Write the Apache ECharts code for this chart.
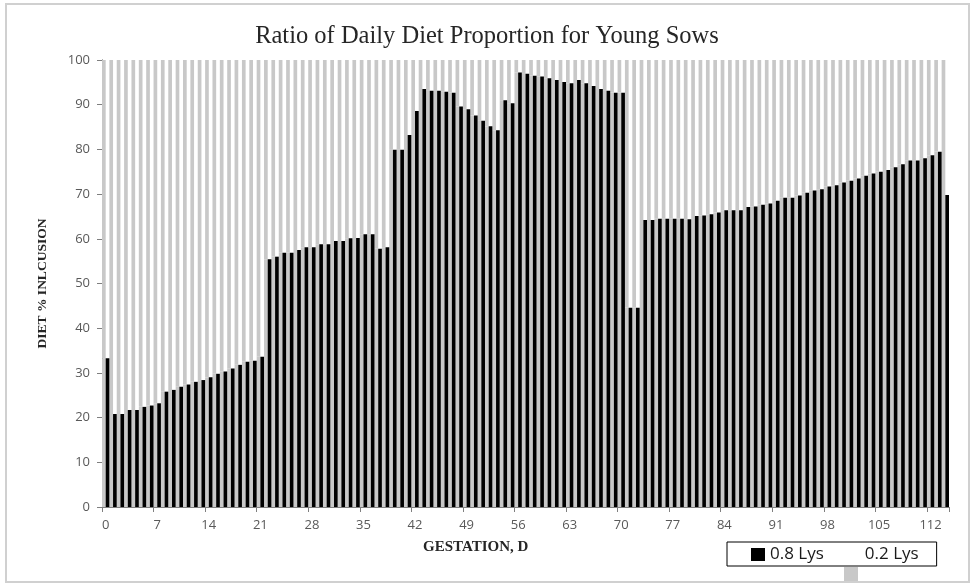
<!DOCTYPE html>
<html>
<head>
<meta charset="utf-8">
<script src="https://cdn.jsdelivr.net/npm/echarts@6/dist/echarts.min.js"></script>
<style>html,body{margin:0;padding:0;background:#fff;}#c{width:974px;height:586px;}</style>
</head>
<body>
<div id="c"></div>
<script>
// Gestation day (category axis)
const days = Array.from({length: 115}, (_, i) => String(i));

// 0.8 Lys diet inclusion (%)
const lys08 = [
  33.3, 20.8, 20.8, 21.7, 21.7, 22.4, 22.7, 23.2, 25.8, 26.2,
  26.9, 27.4, 28.0, 28.4, 29.0, 29.8, 30.3, 31.0, 31.8, 32.5,
  32.7, 33.6, 55.4, 56.0, 56.9, 56.9, 57.5, 58.1, 58.1, 58.8,
  58.8, 59.5, 59.5, 60.1, 60.2, 61.0, 61.0, 57.8, 58.1, 79.9,
  79.9, 83.2, 88.6, 93.5, 93.1, 93.1, 92.9, 92.7, 89.6, 89.0,
  87.6, 86.4, 85.2, 84.3, 91.0, 90.3, 97.2, 96.9, 96.5, 96.3,
  95.9, 95.5, 95.1, 94.8, 95.5, 94.8, 94.2, 93.5, 93.1, 92.7,
  92.7, 44.6, 44.6, 64.2, 64.2, 64.5, 64.5, 64.5, 64.5, 64.4,
  65.1, 65.2, 65.5, 65.9, 66.4, 66.4, 66.4, 67.1, 67.2, 67.6,
  67.9, 68.5, 69.2, 69.2, 69.7, 70.3, 70.8, 71.1, 71.7, 72.0,
  72.6, 73.0, 73.5, 74.1, 74.6, 75.0, 75.4, 76.0, 76.7, 77.5,
  77.5, 78.0, 78.7, 79.5, 69.8
];

// 0.2 Lys diet inclusion (%), the remainder to 100
const lys02 = [
  66.7, 79.2, 79.2, 78.3, 78.3, 77.6, 77.3, 76.8, 74.2, 73.8,
  73.1, 72.6, 72.0, 71.6, 71.0, 70.2, 69.7, 69.0, 68.2, 67.5,
  67.3, 66.4, 44.6, 44.0, 43.1, 43.1, 42.5, 41.9, 41.9, 41.2,
  41.2, 40.5, 40.5, 39.9, 39.8, 39.0, 39.0, 42.2, 41.9, 20.1,
  20.1, 16.8, 11.4, 6.5, 6.9, 6.9, 7.1, 7.3, 10.4, 11.0,
  12.4, 13.6, 14.8, 15.7, 9.0, 9.7, 2.8, 3.1, 3.5, 3.7,
  4.1, 4.5, 4.9, 5.2, 4.5, 5.2, 5.8, 6.5, 6.9, 7.3,
  7.3, 55.4, 55.4, 35.8, 35.8, 35.5, 35.5, 35.5, 35.5, 35.6,
  34.9, 34.8, 34.5, 34.1, 33.6, 33.6, 33.6, 32.9, 32.8, 32.4,
  32.1, 31.5, 30.8, 30.8, 30.3, 29.7, 29.2, 28.9, 28.3, 28.0,
  27.4, 27.0, 26.5, 25.9, 25.4, 25.0, 24.6, 24.0, 23.3, 22.5,
  22.5, 22.0, 21.3, 20.5, 30.2
];

const yTicks = {min: 0, max: 100, step: 10};
const seriesNames = ['0.8 Lys', '0.2 Lys'];
const titleText = 'Ratio of Daily Diet Proportion for Young Sows';
const xName = 'GESTATION, D';
const yName = 'DIET % INLCUSION';

const BLACK = '#000000';
const GRAY = '#c8c8c8';
const LABEL = '#595959';

const chart = echarts.init(document.getElementById('c'), null, {renderer: 'canvas'});
chart.setOption({
  animation: false,
  backgroundColor: '#ffffff',
  title: {
    text: titleText,
    left: 'center',
    top: 24,
    padding: 0,
    textStyle: {fontFamily: 'Liberation Serif', fontSize: 24.5, fontWeight: 'normal', color: '#262626'}
  },
  graphic: [
    {type: 'rect', shape: {x: 6, y: 4, width: 963, height: 578}, style: {fill: 'none', stroke: '#d0d0d0', lineWidth: 2}, silent: true, z: -10},
    {type: 'text', left: 423, top: 540, style: {text: xName, fontFamily: 'Liberation Serif', fontSize: 15, fontWeight: 'bold', fill: '#262626'}}
  ],
  legend: [
    {
      left: 727, top: 542,
      orient: 'horizontal',
      selectedMode: false,
      borderColor: '#000', borderWidth: 1,
      padding: [4, 18, 3, 24],
      itemWidth: 14, itemHeight: 13, itemGap: 22,
      textStyle: {fontFamily: 'Open Sans', fontSize: 17, color: '#1a1a1a'},
      data: [
        {name: seriesNames[0], icon: 'rect', itemStyle: {color: BLACK}},
        {name: seriesNames[1], icon: 'rect', itemStyle: {color: GRAY, opacity: 0}}
      ]
    },
    {
      left: 844, top: 567,
      selectedMode: false,
      padding: 0,
      itemWidth: 14, itemHeight: 14,
      formatter: () => '',
      data: [{name: seriesNames[1], icon: 'rect', itemStyle: {color: GRAY}}]
    }
  ],
  grid: {left: 102, right: 25, top: 60, bottom: 79, containLabel: false},
  xAxis: {
    type: 'category',
    data: days,
    boundaryGap: true,
    axisLine: {show: true, lineStyle: {color: '#7f7f7f', width: 1}},
    axisTick: {show: true, interval: 6, length: 5, lineStyle: {color: '#7f7f7f'}},
    axisLabel: {interval: 6, margin: 12, fontFamily: 'Open Sans', fontSize: 13, color: LABEL},
    splitLine: {show: false}
  },
  yAxis: {
    type: 'value',
    min: yTicks.min, max: yTicks.max, interval: yTicks.step,
    name: yName,
    nameLocation: 'middle',
    nameGap: 52,
    nameRotate: 90,
    nameTextStyle: {fontFamily: 'Liberation Serif', fontSize: 13.5, fontWeight: 'bold', color: '#262626'},
    axisLine: {show: true, lineStyle: {color: '#404040', width: 1}},
    axisTick: {show: true, length: 5, lineStyle: {color: '#7f7f7f'}},
    axisLabel: {margin: 12, fontFamily: 'Open Sans', fontSize: 13, color: LABEL},
    splitLine: {show: false}
  },
  series: [
    {name: seriesNames[1], type: 'bar', stack: 'g', data: lys08, itemStyle: {color: GRAY}, barGap: '0%', barCategoryGap: '0%'},
    {name: seriesNames[1], type: 'bar', stack: 'g', data: lys02, itemStyle: {color: GRAY}, barGap: '0%', barCategoryGap: '0%'},
    {name: seriesNames[0], type: 'bar', stack: 'b', data: lys08, itemStyle: {color: BLACK}, barGap: '0%', barCategoryGap: '0%'}
  ]
});
</script>
</body>
</html>
